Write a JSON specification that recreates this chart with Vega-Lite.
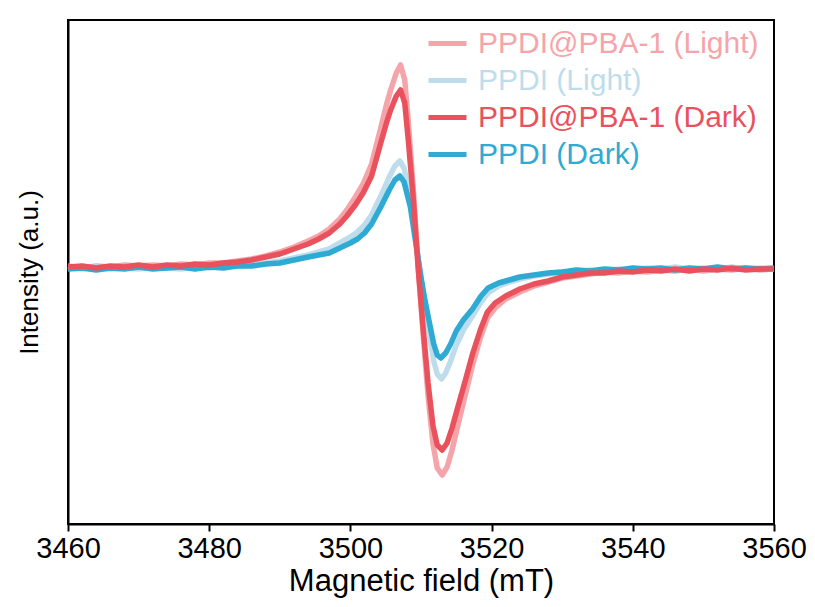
{
  "$schema": "https://vega.github.io/schema/vega-lite/v6.json",
  "width": 706,
  "height": 504,
  "autosize": {"type": "none"},
  "padding": {"left": 68, "top": 20, "right": 41, "bottom": 83},
  "background": "white",
  "config": {
    "view": {"stroke": "black", "strokeWidth": 2},
    "font": "Liberation Sans"
  },
  "datasets": {
    "pl": [
      {"x":3460,"y":2},{"x":3462,"y":0},{"x":3464,"y":2},{"x":3466,"y":1},{"x":3468,"y":3},{"x":3470,"y":2},{"x":3472,"y":3},{"x":3474,"y":2},{"x":3476,"y":4},{"x":3478,"y":3},{"x":3480,"y":5},{"x":3482,"y":5},{"x":3484,"y":7},{"x":3486,"y":9},{"x":3488,"y":12},{"x":3490,"y":16},{"x":3492,"y":21},{"x":3494,"y":27},{"x":3495.5,"y":32},{"x":3497,"y":39},{"x":3498.5,"y":49},{"x":3499.5,"y":58},{"x":3500.7,"y":71},{"x":3501.8,"y":84},{"x":3503,"y":104},{"x":3504.3,"y":140},{"x":3505.1,"y":163},{"x":3505.7,"y":178},{"x":3506.5,"y":195},{"x":3507.1,"y":203},{"x":3507.7,"y":188},{"x":3508.2,"y":146},{"x":3508.9,"y":80},{"x":3509.6,"y":2},{"x":3510.3,"y":-66},{"x":3511.0,"y":-128},{"x":3511.7,"y":-176},{"x":3512.3,"y":-200},{"x":3513,"y":-207},{"x":3513.7,"y":-199},{"x":3514.4,"y":-182},{"x":3515.3,"y":-155},{"x":3516.3,"y":-126},{"x":3517.3,"y":-97},{"x":3518.4,"y":-70},{"x":3519.4,"y":-50},{"x":3520.5,"y":-40},{"x":3522,"y":-31},{"x":3524,"y":-24},{"x":3526,"y":-18},{"x":3528,"y":-14},{"x":3530,"y":-10},{"x":3532,"y":-8},{"x":3534,"y":-6},{"x":3536,"y":-4},{"x":3538,"y":-5},{"x":3540,"y":-3},{"x":3542,"y":-4},{"x":3544,"y":-2},{"x":3546,"y":-3},{"x":3548,"y":-1},{"x":3550,"y":-3},{"x":3552,"y":-1},{"x":3554,"y":-2},{"x":3556,"y":0},{"x":3558,"y":-2},{"x":3560,"y":-1}
    ],
    "ll": [
      {"x":3460,"y":0},{"x":3462,"y":-1},{"x":3464,"y":1},{"x":3466,"y":-1},{"x":3468,"y":0},{"x":3470,"y":-1},{"x":3472,"y":1},{"x":3474,"y":0},{"x":3476,"y":-1},{"x":3478,"y":1},{"x":3480,"y":0},{"x":3482,"y":2},{"x":3484,"y":2},{"x":3486,"y":4},{"x":3488,"y":5},{"x":3490,"y":7},{"x":3492,"y":10},{"x":3494,"y":13},{"x":3495.5,"y":16},{"x":3497,"y":19},{"x":3498.5,"y":25},{"x":3500,"y":31},{"x":3501,"y":36},{"x":3502,"y":43},{"x":3503,"y":53},{"x":3504.3,"y":72},{"x":3505.5,"y":91},{"x":3506.3,"y":102},{"x":3507,"y":107},{"x":3507.6,"y":100},{"x":3508.5,"y":71},{"x":3509.2,"y":32},{"x":3509.9,"y":-6},{"x":3510.5,"y":-37},{"x":3511,"y":-59},{"x":3511.8,"y":-93},{"x":3512.3,"y":-106},{"x":3512.9,"y":-111},{"x":3513.5,"y":-105},{"x":3514.2,"y":-93},{"x":3515,"y":-77},{"x":3516,"y":-62},{"x":3517.3,"y":-48},{"x":3518.5,"y":-34},{"x":3519.5,"y":-25},{"x":3521,"y":-18},{"x":3522.5,"y":-14},{"x":3524,"y":-11},{"x":3526,"y":-8},{"x":3528,"y":-6},{"x":3530,"y":-4},{"x":3532,"y":-4},{"x":3534,"y":-2},{"x":3536,"y":-3},{"x":3538,"y":-1},{"x":3540,"y":-2},{"x":3542,"y":0},{"x":3544,"y":-1},{"x":3546,"y":1},{"x":3548,"y":-1},{"x":3550,"y":0},{"x":3552,"y":-1},{"x":3554,"y":1},{"x":3556,"y":-1},{"x":3558,"y":0},{"x":3560,"y":-1}
    ],
    "pd": [
      {"x":3460,"y":1},{"x":3462,"y":2},{"x":3464,"y":0},{"x":3466,"y":2},{"x":3468,"y":1},{"x":3470,"y":3},{"x":3472,"y":1},{"x":3474,"y":3},{"x":3476,"y":2},{"x":3478,"y":4},{"x":3480,"y":3},{"x":3482,"y":5},{"x":3484,"y":6},{"x":3486,"y":8},{"x":3488,"y":11},{"x":3490,"y":14},{"x":3492,"y":19},{"x":3494,"y":24},{"x":3495.5,"y":29},{"x":3497,"y":35},{"x":3498.5,"y":44},{"x":3499.5,"y":52},{"x":3500.7,"y":63},{"x":3501.8,"y":75},{"x":3503,"y":92},{"x":3504.3,"y":125},{"x":3505.1,"y":145},{"x":3505.7,"y":158},{"x":3506.5,"y":172},{"x":3507.1,"y":178},{"x":3507.7,"y":165},{"x":3508.2,"y":128},{"x":3508.9,"y":70},{"x":3509.6,"y":0},{"x":3510.3,"y":-60},{"x":3511.0,"y":-115},{"x":3511.7,"y":-158},{"x":3512.3,"y":-177},{"x":3513,"y":-182},{"x":3513.7,"y":-175},{"x":3514.4,"y":-160},{"x":3515.3,"y":-137},{"x":3516.3,"y":-112},{"x":3517.3,"y":-86},{"x":3518.4,"y":-62},{"x":3519.4,"y":-44},{"x":3520.5,"y":-35},{"x":3522,"y":-28},{"x":3524,"y":-21},{"x":3526,"y":-16},{"x":3528,"y":-13},{"x":3530,"y":-9},{"x":3532,"y":-7},{"x":3534,"y":-5},{"x":3536,"y":-5},{"x":3538,"y":-3},{"x":3540,"y":-4},{"x":3542,"y":-2},{"x":3544,"y":-3},{"x":3546,"y":-1},{"x":3548,"y":-3},{"x":3550,"y":-1},{"x":3552,"y":-2},{"x":3554,"y":0},{"x":3556,"y":-2},{"x":3558,"y":-1},{"x":3560,"y":-1}
    ],
    "ld": [
      {"x":3460,"y":-1},{"x":3462,"y":0},{"x":3464,"y":-2},{"x":3466,"y":0},{"x":3468,"y":-1},{"x":3470,"y":1},{"x":3472,"y":-1},{"x":3474,"y":0},{"x":3476,"y":1},{"x":3478,"y":-1},{"x":3480,"y":1},{"x":3482,"y":0},{"x":3484,"y":2},{"x":3486,"y":2},{"x":3488,"y":4},{"x":3490,"y":5},{"x":3492,"y":8},{"x":3494,"y":11},{"x":3495.5,"y":13},{"x":3497,"y":15},{"x":3498.5,"y":20},{"x":3500,"y":25},{"x":3501,"y":29},{"x":3502,"y":35},{"x":3503,"y":44},{"x":3504.3,"y":61},{"x":3505.5,"y":78},{"x":3506.3,"y":88},{"x":3507,"y":92},{"x":3507.6,"y":86},{"x":3508.5,"y":61},{"x":3509.2,"y":28},{"x":3509.9,"y":-5},{"x":3510.5,"y":-30},{"x":3511,"y":-48},{"x":3511.8,"y":-76},{"x":3512.3,"y":-87},{"x":3512.8,"y":-90},{"x":3513.5,"y":-85},{"x":3514.2,"y":-76},{"x":3515,"y":-63},{"x":3516,"y":-52},{"x":3517.3,"y":-41},{"x":3518.5,"y":-28},{"x":3519.5,"y":-20},{"x":3521,"y":-15},{"x":3522.5,"y":-12},{"x":3524,"y":-9},{"x":3526,"y":-7},{"x":3528,"y":-5},{"x":3530,"y":-4},{"x":3532,"y":-2},{"x":3534,"y":-3},{"x":3536,"y":-1},{"x":3538,"y":-2},{"x":3540,"y":0},{"x":3542,"y":-1},{"x":3544,"y":0},{"x":3546,"y":-2},{"x":3548,"y":0},{"x":3550,"y":-1},{"x":3552,"y":1},{"x":3554,"y":-1},{"x":3556,"y":0},{"x":3558,"y":-1},{"x":3560,"y":0}
    ]
  },
  "encoding": {
    "x": {
      "field": "x", "type": "quantitative",
      "scale": {"domain": [3460, 3560], "nice": false, "zero": false},
      "axis": {
        "title": "Magnetic field (mT)",
        "values": [3460, 3480, 3500, 3520, 3540, 3560],
        "format": "d",
        "grid": false,
        "domainColor": "black", "domainWidth": 2,
        "tickColor": "black", "tickWidth": 2, "tickSize": 7,
        "labelFontSize": 29, "labelColor": "black", "labelPadding": 3,
        "labelFlush": false,
        "titleFontSize": 31, "titleFontWeight": "normal", "titleColor": "black", "titlePadding": 3
      }
    },
    "y": {
      "field": "y", "type": "quantitative",
      "scale": {"domain": [-256, 248], "nice": false, "zero": false},
      "axis": {
        "title": "Intensity (a.u.)",
        "labels": false, "ticks": false, "grid": false,
        "domainColor": "black", "domainWidth": 2,
        "titleFontSize": 26, "titleFontWeight": "normal", "titleColor": "black", "titlePadding": 26
      }
    }
  },
  "layer": [
    {
      "data": {"name": "pl"},
      "mark": {"type": "line", "strokeWidth": 5.5, "strokeJoin": "round"},
      "encoding": {
        "color": {
          "datum": "PPDI@PBA-1 (Light)",
          "type": "nominal",
          "scale": {
            "domain": ["PPDI@PBA-1 (Light)", "PPDI (Light)", "PPDI@PBA-1 (Dark)", "PPDI (Dark)"],
            "range": ["#F5A5A9", "#BEDDEC", "#E9525C", "#2EAAD3"]
          },
          "legend": {
            "title": null,
            "orient": "none",
            "legendX": 358,
            "legendY": 2,
            "padding": 0,
            "symbolType": "stroke",
            "symbolSize": 1444,
            "symbolStrokeWidth": 5,
            "labelFontSize": 30,
            "labelOffset": 9,
            "rowPadding": 0,
            "labelLimit": 400,
            "encode": {
              "labels": {"update": {"fill": {"scale": "color", "field": "value"}}}
            }
          }
        }
      }
    },
    {
      "data": {"name": "ll"},
      "mark": {"type": "line", "strokeWidth": 5.5, "strokeJoin": "round"},
      "encoding": {"color": {"datum": "PPDI (Light)", "type": "nominal"}}
    },
    {
      "data": {"name": "ld"},
      "mark": {"type": "line", "strokeWidth": 5.5, "strokeJoin": "round"},
      "encoding": {"color": {"datum": "PPDI (Dark)", "type": "nominal"}}
    },
    {
      "data": {"name": "pd"},
      "mark": {"type": "line", "strokeWidth": 5.5, "strokeJoin": "round"},
      "encoding": {"color": {"datum": "PPDI@PBA-1 (Dark)", "type": "nominal"}}
    }
  ]
}
